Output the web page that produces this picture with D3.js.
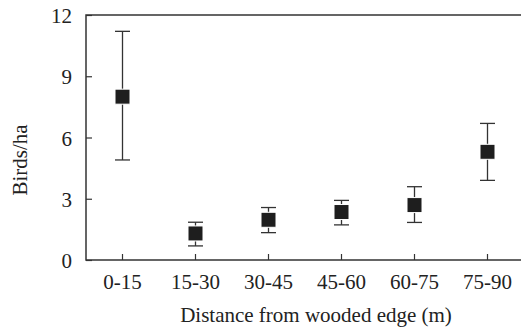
<!DOCTYPE html>
<html>
<head>
<meta charset="utf-8">
<script src="https://cdn.jsdelivr.net/npm/d3@7"></script>
<style>
  svg text { font-family: "Liberation Serif", "Times New Roman", Times, serif !important; font-size: 21px; fill: #222; }
</style>
</head>
<body style="margin:0">
<svg width="521" height="332"></svg>
<script>
var categories = ["0-15", "15-30", "30-45", "45-60", "60-75", "75-90"];
var means = [8.0, 1.3, 1.97, 2.35, 2.69, 5.3];
var upper = [11.2, 1.85, 2.57, 2.92, 3.59, 6.69];
var lower = [4.9, 0.69, 1.34, 1.72, 1.84, 3.9];
var yTicks = [0, 3, 6, 9, 12];

var svg = d3.select("svg"),
    margin = {top: 15, right: -3, bottom: 72, left: 86},
    width = +svg.attr("width") - margin.left - margin.right,
    height = +svg.attr("height") - margin.top - margin.bottom;

var data = categories.map(function(c, i) {
  return {cat: c, mean: means[i], hi: upper[i], lo: lower[i]};
});

var x = d3.scaleBand().domain(categories).range([0, width]),
    y = d3.scaleLinear().domain([0, 12]).range([height, 0]);

var g = svg.append("g")
    .attr("transform", "translate(" + margin.left + "," + margin.top + ")");

var ink = "#333";

// frame: left, top, bottom
g.append("path")
    .attr("d", "M" + width + ",0H0V" + height + "H" + width)
    .attr("fill", "none")
    .attr("stroke", ink)
    .attr("stroke-width", 1.5);

// y axis
var yAxis = g.append("g")
    .call(d3.axisLeft(y).tickValues(yTicks).tickSize(-6).tickPadding(14))
    .attr("font-family", null).attr("font-size", null);
yAxis.select(".domain").remove();
yAxis.selectAll("line").attr("stroke", ink).attr("stroke-width", 1.2);
yAxis.selectAll("text").attr("dy", "0.36em");

// x axis
var xAxis = g.append("g")
    .attr("transform", "translate(0," + height + ")")
    .call(d3.axisBottom(x).tickSize(-6).tickPadding(14))
    .attr("font-family", null).attr("font-size", null);
xAxis.select(".domain").remove();
xAxis.selectAll("line").attr("stroke", ink).attr("stroke-width", 1.2);

// error bars
var cap = 7.5;
var bars = g.selectAll(".err").data(data).enter().append("g").attr("class", "err")
    .attr("transform", function(d) { return "translate(" + (x(d.cat) + x.bandwidth() / 2) + ",0)"; });

bars.append("line")
    .attr("y1", function(d) { return y(d.hi); })
    .attr("y2", function(d) { return y(d.lo); })
    .attr("stroke", ink).attr("stroke-width", 1.3);
bars.append("line")
    .attr("x1", -cap).attr("x2", cap)
    .attr("y1", function(d) { return y(d.hi); })
    .attr("y2", function(d) { return y(d.hi); })
    .attr("stroke", ink).attr("stroke-width", 1.3);
bars.append("line")
    .attr("x1", -cap).attr("x2", cap)
    .attr("y1", function(d) { return y(d.lo); })
    .attr("y2", function(d) { return y(d.lo); })
    .attr("stroke", ink).attr("stroke-width", 1.3);

// square markers
var s = 15;
bars.append("rect")
    .attr("x", -s / 2)
    .attr("y", function(d) { return y(d.mean) - s / 2; })
    .attr("width", s).attr("height", s)
    .attr("fill", "#1e1e1e")
    .attr("stroke", "#fff").attr("stroke-width", 1);

// axis titles
svg.append("text")
    .attr("x", 316).attr("y", 322)
    .attr("text-anchor", "middle")
    .text("Distance from wooded edge (m)");

svg.append("text")
    .attr("transform", "translate(27,160) rotate(-90)")
    .attr("text-anchor", "middle")
    .text("Birds/ha");
</script>
</body>
</html>
